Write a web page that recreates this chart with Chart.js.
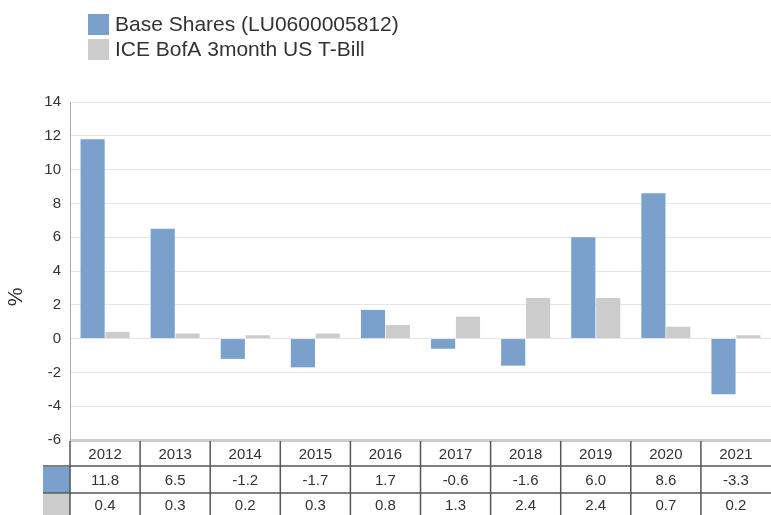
<!DOCTYPE html>
<html>
<head>
<meta charset="utf-8">
<script src="https://cdn.jsdelivr.net/npm/chart.js@4/dist/chart.umd.min.js"></script>
<style>
  body { margin: 0; background: #fff; }
  #wrap { width: 771px; height: 515px; }
</style>
</head>
<body>
<div id="wrap"><canvas id="chart" width="771" height="515"></canvas></div>
<script>
const YEARS = ['2012', '2013', '2014', '2015', '2016', '2017', '2018', '2019', '2020', '2021']
const BASE_SHARES = [11.8, 6.5, -1.2, -1.7, 1.7, -0.6, -1.6, 6.0, 8.6, -3.3]
const TBILL = [0.4, 0.3, 0.2, 0.3, 0.8, 1.3, 2.4, 2.4, 0.7, 0.2]
const SERIES_NAMES = ['Base Shares (LU0600005812)', 'ICE BofA 3month US T-Bill']

const COLORS = {
  base: '#7aa0cc',
  bench: '#cccccc',
  text: '#333333',
  grid: '#e6e6e6',
  table: '#555555',
}
const FONT = '"Liberation Sans", Arial, sans-serif'

// legend, y title and the data table under the plot
const extras = {
  id: 'extras',
  afterDraw(chart) {
    const { ctx, chartArea, scales } = chart
    ctx.save()

    // legend
    ctx.font = `21px ${FONT}`
    ctx.textBaseline = 'middle'
    ctx.textAlign = 'left'
    chart.data.datasets.forEach((ds, i) => {
      const y = 14 + i * 25
      ctx.fillStyle = ds.backgroundColor
      ctx.fillRect(88, y, 21, 21)
      ctx.fillStyle = COLORS.text
      ctx.fillText(ds.label, 115, y + 11.5)
    })

    // y axis title
    ctx.save()
    ctx.translate(22, 297)
    ctx.rotate(-Math.PI / 2)
    ctx.textAlign = 'center'
    ctx.textBaseline = 'alphabetic'
    ctx.font = `21px ${FONT}`
    ctx.fillText('%', 0, 0)
    ctx.restore()

    // table
    const x = scales.x
    const top = chartArea.bottom
    const rows = [top + 1, top + 26, top + 53, chart.height]
    const half = (x.getPixelForValue(1) - x.getPixelForValue(0)) / 2

    ctx.fillStyle = COLORS.base
    ctx.fillRect(43, rows[1] + 1, chartArea.left - 43, rows[2] - rows[1] - 1)
    ctx.fillStyle = COLORS.bench
    ctx.fillRect(43, rows[2] + 1, chartArea.left - 43, rows[3] - rows[2])

    ctx.strokeStyle = COLORS.table
    ctx.lineWidth = 1.5
    ctx.beginPath()
    YEARS.forEach((_, i) => {
      const left = x.getPixelForValue(i) - half
      ctx.moveTo(left, top + 1)
      ctx.lineTo(left, chart.height)
    })
    ctx.moveTo(43, rows[1]); ctx.lineTo(chart.width, rows[1])
    ctx.moveTo(43, rows[2]); ctx.lineTo(chart.width, rows[2])
    ctx.stroke()

    ctx.fillStyle = COLORS.text
    ctx.font = `15px ${FONT}`
    ctx.textAlign = 'center'
    YEARS.forEach((yr, i) => {
      const cx = x.getPixelForValue(i)
      ctx.fillText(yr, cx, (rows[0] + rows[1]) / 2 + 1)
      ctx.fillText(BASE_SHARES[i].toFixed(1), cx, (rows[1] + rows[2]) / 2 + 1)
      ctx.fillText(TBILL[i].toFixed(1), cx, (rows[2] + rows[3]) / 2 + 2)
    })
    ctx.restore()
  },
}

new Chart(document.getElementById('chart'), {
  type: 'bar',
  data: {
    labels: YEARS,
    datasets: [
      { label: SERIES_NAMES[0], data: BASE_SHARES, backgroundColor: COLORS.base },
      { label: SERIES_NAMES[1], data: TBILL, backgroundColor: COLORS.bench },
    ],
  },
  options: {
    responsive: false,
    animation: false,
    categoryPercentage: 0.71,
    barPercentage: 0.97,
    layout: { padding: { top: 102, bottom: 75, right: 0, left: 0 } },
    plugins: { legend: { display: false }, tooltip: { enabled: false } },
    scales: {
      x: { display: false },
      y: {
        min: -6,
        max: 14,
        afterFit: s => { s.width = 70 },
        ticks: { stepSize: 2, padding: 9, color: COLORS.text, font: { family: FONT, size: 15 } },
        grid: {
          drawTicks: false,
          color: c => c.tick.value === -6 ? '#cccccc' : COLORS.grid,
          lineWidth: c => c.tick.value === -6 ? 3 : 1,
        },
        border: { color: '#aaaaaa', width: 1 },
      },
    },
  },
  plugins: [extras],
})
</script>
</body>
</html>
